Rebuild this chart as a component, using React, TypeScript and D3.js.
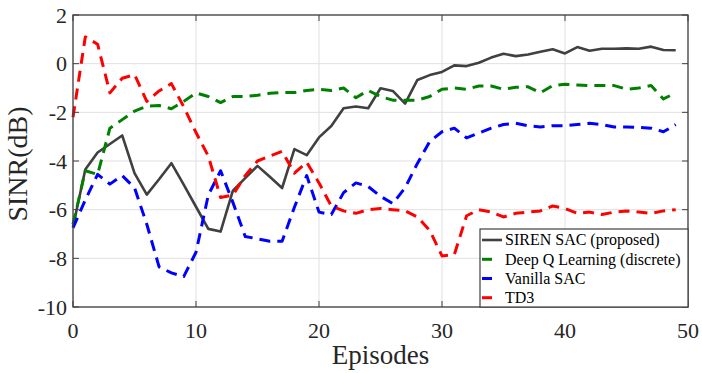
import React from "react";
import * as d3 from "d3";

const episodes = d3.range(0, 50);

const sirenSAC = [-6.7, -4.35, -3.65, -3.3, -2.95, -4.5, -5.38, -4.75, -4.09, -4.97,
  -5.88, -6.79, -6.9, -5.22, -4.7, -4.2, -4.65, -5.11, -3.51, -3.76,
  -3.03, -2.56, -1.83, -1.76, -1.83, -1.01, -1.12, -1.64, -0.67, -0.47,
  -0.34, -0.07, -0.1, 0.04, 0.25, 0.41, 0.31, 0.38, 0.49, 0.59,
  0.42, 0.68, 0.53, 0.61, 0.61, 0.63, 0.61, 0.7, 0.56, 0.55];

const deepQ = [-6.6, -4.4, -4.55, -2.65, -2.3, -1.95, -1.75, -1.72, -1.85, -1.55,
  -1.2, -1.35, -1.6, -1.35, -1.35, -1.3, -1.22, -1.19, -1.19, -1.1,
  -1.05, -1.1, -1.0, -1.4, -1.1, -1.35, -1.5, -1.5, -1.5, -1.35,
  -1.05, -1.0, -1.05, -0.92, -0.92, -1.05, -0.97, -0.95, -1.2, -0.9,
  -0.85, -0.88, -0.9, -0.9, -0.9, -1.05, -1.0, -0.9, -1.45, -1.2];

const vanillaSAC = [-6.75, -5.6, -4.55, -4.95, -4.6, -5.1, -6.6, -8.35, -8.6, -8.75,
  -7.75, -5.4, -4.4, -5.7, -7.1, -7.2, -7.3, -7.3, -5.9, -4.6,
  -6.1, -6.2, -5.3, -4.9, -5.05, -5.45, -5.75, -5.1, -4.1, -3.2,
  -2.8, -2.65, -3.05, -2.85, -2.65, -2.5, -2.45, -2.55, -2.6, -2.55,
  -2.55, -2.5, -2.45, -2.5, -2.6, -2.6, -2.62, -2.65, -2.8, -2.5];

const td3 = [-2.2, 1.1, 0.8, -1.2, -0.6, -0.45, -1.55, -1.12, -0.82, -1.77,
  -2.83, -3.8, -5.5, -5.4, -4.6, -4.0, -3.8, -3.6, -4.5, -4.05,
  -4.9, -5.85, -6.05, -6.15, -6.0, -5.95, -6.0, -6.05, -6.3, -6.85,
  -7.9, -7.85, -6.25, -6.0, -6.1, -6.3, -6.15, -6.1, -6.05, -5.85,
  -5.95, -6.15, -6.1, -6.2, -6.1, -6.05, -6.1, -6.15, -6.05, -6.0];

const xTicks = [0, 10, 20, 30, 40, 50];
const yTicks = [-10, -8, -6, -4, -2, 0, 2];

const seriesNames = ["SIREN SAC (proposed)", "Deep Q Learning (discrete)", "Vanilla SAC", "TD3"];
const seriesData = [sirenSAC, deepQ, vanillaSAC, td3];
const seriesColors = ["#404040", "#008000", "#0000ff", "#ff0000"];
const seriesDash = [null, "11,7", "11,7", "11,7"];
const seriesWidth = [2.6, 3, 3, 3];

const W = 702, H = 373;
const M = { left: 73, right: 688, top: 15, bottom: 307 };
const FONT = "Liberation Serif, Times New Roman, serif";
const tf = { fontFamily: FONT };

export default function App() {
  const x = d3.scaleLinear().domain([0, 50]).range([M.left, M.right]);
  const y = d3.scaleLinear().domain([-10, 2]).range([M.bottom, M.top]);
  const line = (vals: number[]) =>
    d3.line<number>().x((_, i) => x(episodes[i])).y((v) => y(v))(vals) || "";

  const axisColor = "#404040";
  const tickLen = 6;

  const legX = 480, legY = 229, legW = 208, legH = 78;
  const rowY = [240, 259.3, 278.5, 297.7];

  return (
    <svg width={W} height={H} style={{ position: "absolute", left: 0, top: 0, background: "#fff" }}>
      <rect x={0} y={0} width={W} height={H} fill="#fff" />
      {xTicks.map((t) => (
        <line key={"gx" + t} x1={x(t)} x2={x(t)} y1={M.top} y2={M.bottom} stroke="#e0e0e0" strokeWidth={1} />
      ))}
      {yTicks.map((t) => (
        <line key={"gy" + t} x1={M.left} x2={M.right} y1={y(t)} y2={y(t)} stroke="#e0e0e0" strokeWidth={1} />
      ))}
      {seriesData.map((d, i) => (
        <path key={"s" + i} d={line(d)} fill="none" stroke={seriesColors[i]} strokeWidth={seriesWidth[i]}
          strokeDasharray={seriesDash[i] || undefined} strokeLinejoin="round" />
      ))}
      <rect x={M.left} y={M.top} width={M.right - M.left} height={M.bottom - M.top} fill="none"
        stroke={axisColor} strokeWidth={1.3} />
      {xTicks.map((t) => (
        <g key={"tx" + t}>
          <line x1={x(t)} x2={x(t)} y1={M.bottom} y2={M.bottom - tickLen} stroke={axisColor} strokeWidth={1} />
          <line x1={x(t)} x2={x(t)} y1={M.top} y2={M.top + tickLen} stroke={axisColor} strokeWidth={1} />
          <text x={x(t)} y={338} textAnchor="middle" fontSize={22} fill="#262626" style={tf}>{t}</text>
        </g>
      ))}
      {yTicks.map((t) => (
        <g key={"ty" + t}>
          <line x1={M.left} x2={M.left + tickLen} y1={y(t)} y2={y(t)} stroke={axisColor} strokeWidth={1} />
          <line x1={M.right} x2={M.right - tickLen} y1={y(t)} y2={y(t)} stroke={axisColor} strokeWidth={1} />
          <text x={67} y={y(t)} dy="0.35em" textAnchor="end" fontSize={22} fill="#262626" style={tf}>{t}</text>
        </g>
      ))}
      <text x={(M.left + M.right) / 2} y={364} textAnchor="middle" fontSize={27} fill="#262626" style={tf}>Episodes</text>
      <text transform={`translate(27,164) rotate(-90)`} textAnchor="middle" fontSize={28} fill="#262626" style={tf}>SINR(dB)</text>
      <rect x={legX} y={legY} width={legW} height={legH} fill="#fff" stroke={axisColor} strokeWidth={1.2} />
      {seriesNames.map((n, i) => (
        <g key={"l" + i}>
          <line x1={482} x2={i === 0 ? 502 : 492} y1={rowY[i]} y2={rowY[i]} stroke={seriesColors[i]}
            strokeWidth={seriesWidth[i]} />
          <text x={505} y={rowY[i]} dy="0.33em" fontSize={16} fill="#000" style={tf}>{n}</text>
        </g>
      ))}
    </svg>
  );
}
